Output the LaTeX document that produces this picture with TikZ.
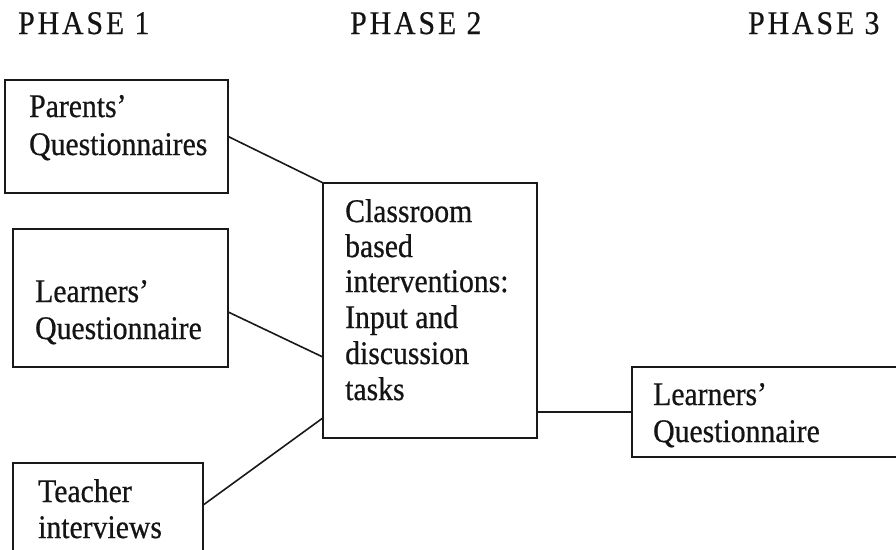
\documentclass[tikz,border=0pt]{standalone}
\usepackage{fontspec}
\setmainfont{Liberation Serif}[FakeStretch=0.9, FakeBold=0.6]
\begin{document}
\begin{tikzpicture}[x=1pt,y=-1pt,
  box/.style={draw=black!90, line width=1.6pt},
  conn/.style={draw=black!90, line width=1.6pt},
  txt/.style={anchor=base west, inner sep=0pt, text=black!92, font=\fontsize{33}{36}\selectfont},
  head/.style={anchor=base west, inner sep=0pt, text=black!92, font=\fontsize{33}{36}\selectfont\addfontfeature{LetterSpace=9}}]
\useasboundingbox (0,0) rectangle (896,549);
\clip (0,0) rectangle (896,549);
\fill[white] (0,0) rectangle (896,549);
% headings
\node[head] (h1) at (18,34) {PHASE 1};
\node[head] (h2) at (350,34) {PHASE 2};
\node[head] (h3) at (748,34) {PHASE 3};
% boxes
\draw[box] (5,80) rectangle (228,193);
\node[inner sep=0pt, minimum width=223pt, minimum height=113pt] (pq) at (116.5,136.5) {};
\draw[box] (13,229) rectangle (228,367);
\node[inner sep=0pt, minimum width=215pt, minimum height=138pt] (lq) at (120.5,298) {};
\draw[box] (13,463) rectangle (203,580);
\node[inner sep=0pt, minimum width=190pt, minimum height=117pt] (ti) at (108,521.5) {};
\draw[box] (323,183) rectangle (537,438);
\node[inner sep=0pt, minimum width=214pt, minimum height=255pt] (cb) at (430,310.5) {};
\draw[box] (632,367) rectangle (920,457);
\node[inner sep=0pt, minimum width=288pt, minimum height=90pt] (rq) at (776,412) {};
% texts
\node[txt] (t1) at (29,117) {Parents’};
\node[txt] (t2) at (29,155) {Questionnaires};
\node[txt] (t3) at (35,302) {Learners’};
\node[txt] (t4) at (35,339) {Questionnaire};
\node[txt] (t5) at (38,502) {Teacher};
\node[txt] (t6) at (38,538) {interviews};
\node[txt] (t7) at (345,222) {Classroom};
\node[txt] (t8) at (345,257) {based};
\node[txt] (t9) at (345,292) {interventions:};
\node[txt] (t10) at (345,328) {Input and};
\node[txt] (t11) at (345,364) {discussion};
\node[txt] (t12) at (345,400) {tasks};
\node[txt] (t13) at (653,405) {Learners’};
\node[txt] (t14) at (653,442) {Questionnaire};
% connectors
\coordinate (lqout) at (lq.east |- 0,312);
\coordinate (cbin2) at (cb.west |- 0,357);
\coordinate (tiout) at (ti.east |- 0,505);
\coordinate (cbin3) at (cb.west |- 0,418);
\coordinate (cbout) at (cb.east |- rq.west);
\draw[conn] (pq.east) -- (cb.north west);
\draw[conn] (lqout) -- (cbin2);
\draw[conn] (tiout) -- (cbin3);
\draw[conn] (cbout) -- (rq.west);
\end{tikzpicture}
\end{document}
